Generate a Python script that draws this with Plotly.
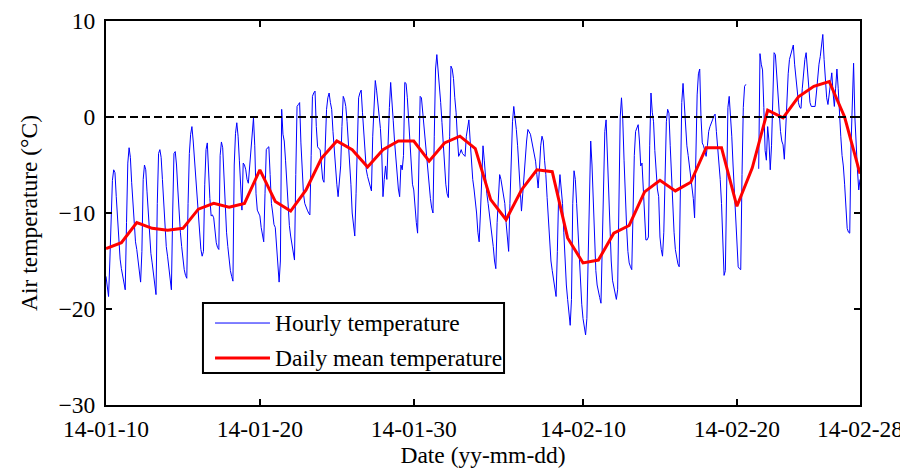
import pandas as pd
import plotly.graph_objects as go

# === DATOS ===
# temperatura cada 2 h (00, 02, ..., 22 h), una fila por día
sample_hours = [0, 2, 4, 6, 8, 10, 12, 14, 16, 18, 20, 22]

# 10 ene - 31 ene 2014
hourly_jan = [
    [-16.6, -18.0, -18.7, -15.0, -10.0, -6.6, -5.5, -5.8, -8.3, -10.8, -13.2, -14.8],
    [-15.8, -16.6, -17.4, -18.0, -11.0, -4.8, -3.2, -4.2, -6.8, -9.0, -11.5, -13.0],
    [-13.8, -15.0, -16.2, -17.2, -14.0, -6.5, -5.0, -5.5, -7.8, -10.0, -12.8, -14.2],
    [-15.2, -16.5, -17.8, -18.5, -9.0, -3.8, -3.4, -4.2, -6.5, -9.0, -11.4, -13.5],
    [-14.5, -15.5, -17.0, -18.0, -10.0, -3.8, -3.6, -5.0, -7.5, -10.0, -12.0, -13.5],
    [-14.8, -15.9, -16.5, -16.8, -9.0, -3.8, -1.8, -1.0, -2.5, -4.5, -6.9, -8.5],
    [-10.0, -12.0, -13.8, -14.5, -14.0, -7.0, -3.4, -2.7, -6.0, -8.5, -10.3, -10.2],
    [-10.5, -12.0, -13.1, -13.6, -13.8, -4.0, -2.6, -3.2, -6.5, -10.0, -12.0, -13.5],
    [-15.0, -16.0, -16.6, -17.1, -5.0, -1.7, -0.6, -2.0, -4.5, -7.5, -9.7, -4.8],
    [-5.0, -5.5, -6.5, -6.9, -5.0, -3.4, -1.0, -0.1, -3.0, -8.0, -9.7, -10.0],
    [-10.3, -11.5, -12.5, -13.0, -8.0, -3.4, -3.2, -3.1, -6.0, -9.0, -10.0, -11.2],
    [-11.5, -13.8, -15.5, -17.2, -15.0, 0.8, -1.8, -2.5, -4.5, -7.0, -9.7, -11.3],
    [-12.4, -13.3, -14.2, -14.9, -6.0, 1.1, 1.3, 1.5, -2.7, -5.5, -8.0, -9.0],
    [-9.5, -9.7, -10.0, -10.2, -4.0, 2.15, 2.5, 2.7, -1.0, -3.1, -3.3, -3.4],
    [-5.0, -6.5, -6.8, -3.0, 0.8, 2.0, 2.5, 1.5, 0.8, -1.5, -3.5, -5.0],
    [-7.0, -8.3, -6.5, -5.1, -1.0, 2.15, 1.8, 1.1, -0.5, -2.5, -4.1, -7.0],
    [-10.0, -11.5, -12.4, -8.0, -1.0, 2.0, 2.5, 2.8, 0.5, -1.7, -4.0, -5.5],
    [-6.2, -6.8, -7.3, -7.7, -2.0, 2.0, 3.8, 2.8, 1.5, 0.8, -1.2, -3.5],
    [-8.3, -6.5, -5.1, -6.5, -2.0, 1.0, 3.6, 2.0, -0.4, -2.5, -4.5, -6.2],
    [-7.5, -8.3, -5.0, -5.5, -4.0, 3.6, 3.5, 2.0, -0.5, -3.0, -5.5, -7.0],
    [-7.6, -9.5, -11.0, -12.1, -5.0, 2.15, 2.0, 0.5, -1.0, -2.4, -4.0, -6.0],
    [-7.0, -8.5, -9.5, -10.0, -2.0, 5.0, 6.5, 5.0, 3.5, 1.5, -0.6, -3.0],
]

# 1 feb - 27 feb 2014 (None = hueco en el registro)
hourly_feb = [
    [-5.5, -7.0, -8.0, -8.4, -2.0, 5.3, 5.0, 4.0, 2.0, 0.5, -2.0, -4.1],
    [-3.8, -3.4, -3.8, -4.0, -4.1, -2.0, -0.8, -0.3, -2.5, -5.1, -6.5, -7.5],
    [-8.5, -10.0, -12.0, -13.0, -10.0, -5.5, -3.0, -4.5, -6.8, -8.0, -9.0, -10.0],
    [-11.0, -12.0, -13.5, -15.0, -15.8, -11.0, -8.0, -6.0, -6.5, -7.5, -8.0, -9.0],
    [-11.0, -12.5, -14.0, -9.0, -3.0, -0.5, 1.1, 0.0, -1.3, -3.0, -5.5, -8.5],
    [-9.8, -8.0, -6.0, -4.0, -2.5, -1.3, -1.5, -1.8, -2.5, -3.2, -4.0, -4.6],
    [-6.0, -7.4, -5.5, -3.0, -2.0, -2.5, -4.5, -6.0, -8.4, -11.0, -13.0, -15.0],
    [-16.0, -17.0, -18.0, -18.7, -14.0, -8.0, -6.0, -7.5, -9.0, -12.0, -15.0, -17.5],
    [-19.0, -20.5, -21.7, -19.0, -9.0, -5.6, -6.5, -9.0, -12.0, -15.0, -17.5, -19.5],
    [-21.0, -22.0, -22.7, -21.0, -14.0, -6.0, -2.5, -5.0, -9.0, -13.0, -16.0, -17.5],
    [-18.0, -18.8, -19.4, -12.0, -5.0, -1.5, -0.3, -3.9, -8.0, -12.0, -15.0, -17.0],
    [-17.8, -18.5, -19.0, -18.0, -8.0, 0.0, 2.0, -0.3, -4.5, -8.5, -11.5, -14.0],
    [-15.2, -15.6, -15.9, -10.0, -4.0, -1.5, -1.2, -0.8, -2.5, -5.1, -4.8, -8.0],
    [-11.0, -12.8, -12.8, -12.5, -3.0, 2.5, 0.5, -0.5, -3.5, -6.2, -7.5, -8.3],
    [-12.5, -13.8, -14.5, -12.0, -5.0, -0.5, 0.8, 0.4, -3.0, -6.5, -9.7, -12.0],
    [-13.8, -14.8, -15.3, -15.6, -6.0, 1.5, 3.5, 1.0, -1.5, -3.0, -4.0, -5.0],
    [-6.0, -7.2, -8.5, -10.5, -3.0, 2.3, 4.5, 5.0, 0.0, -2.7, -3.0, -3.5],
    [-4.1, -3.0, -1.5, -1.0, -0.5, -0.3, 0.1, 0.3, -1.5, -3.0, -4.5, -6.5],
    [-9.0, -13.0, -16.5, -16.0, -5.0, 1.0, 2.15, 0.5, -2.0, -5.0, -8.0, -11.0],
    [-14.0, -15.6, -15.8, -15.9, -6.0, 1.0, 3.2, 3.4, None, None, None, None],
    [None, None, None, None, None, -5.4, 6.6, 5.5, 4.9, 1.0, -3.5, -4.5],
    [-1.0, -2.5, -5.5, -3.0, 2.0, 6.7, 6.5, 4.5, 2.0, -0.3, -1.5, -2.5],
    [-2.9, -4.4, -1.0, 2.5, 4.5, 6.0, 6.5, 7.0, 7.5, 5.5, 3.9, 2.5],
    [1.5, 1.0, 0.9, 3.0, 5.0, 6.0, 6.7, 5.0, 3.0, 1.5, 1.1, 1.1],
    [1.1, 1.1, 2.5, 4.5, 5.5, 6.3, 7.5, 8.6, 6.0, 3.9, 2.0, 1.3],
    [2.5, 3.5, 4.6, 2.5, 1.1, 3.0, 5.0, 3.0, 0.1, -2.0, -4.0, -5.1],
    [-7.0, -9.3, -11.6, -12.0, -12.1, -3.0, 3.0, 5.6, 0.0, -3.4, -5.5, -7.6],
]
last_hourly = -6.5  # 28 feb 00 h

# media diaria (un valor por día, 10 ene - 28 feb)
daily_mean_jan = [-13.7, -13.1, -11.0, -11.6, -11.8, -11.6, -9.6, -9.0, -9.4, -9.0,
                  -5.5, -8.8, -9.8, -7.6, -4.3, -2.5, -3.4, -5.2, -3.4, -2.5,
                  -2.5, -4.6]
daily_mean_feb = [-2.7, -2.0, -3.3, -8.6, -10.7, -7.6, -5.5, -5.7, -12.6, -15.2,
                  -14.9, -12.1, -11.3, -7.8, -6.6, -7.7, -6.8, -3.2, -3.2, -9.3,
                  -5.3, 0.7, -0.1, 2.1, 3.2, 3.7, 0.0, -5.9]

tick_dates = ['2014-01-10', '2014-01-20', '2014-01-30', '2014-02-10', '2014-02-20', '2014-02-28']
tick_labels = ['14-01-10', '14-01-20', '14-01-30', '14-02-10', '14-02-20', '14-02-28']
y_ticks = [-30, -20, -10, 0, 10]
y_labels = ['\u221230', '\u221220', '\u221210', '0', '10']
legend_names = ['Hourly temperature', 'Daily mean temperature']

# === SERIES ===
start = pd.Timestamp('2014-01-10')
rows = hourly_jan + hourly_feb
hourly_x, hourly_y = [], []
for i, row in enumerate(rows):
    day = start + pd.Timedelta(days=i)
    for h, v in zip(sample_hours, row):
        hourly_x.append(day + pd.Timedelta(hours=h))
        hourly_y.append(v)
hourly_x.append(start + pd.Timedelta(days=len(rows)))
hourly_y.append(last_hourly)

daily_mean = daily_mean_jan + daily_mean_feb
daily_x = pd.date_range(start, periods=len(daily_mean), freq='D')

FONT = "Times New Roman, Liberation Serif, serif"
FS = 23.5
BLUE, RED = '#0000ff', '#ff0000'

fig = go.Figure()
fig.add_trace(go.Scatter(
    x=hourly_x, y=hourly_y, mode='lines', name=legend_names[0],
    line=dict(color=BLUE, width=1), connectgaps=False, showlegend=False
))
fig.add_trace(go.Scatter(
    x=daily_x, y=daily_mean, mode='lines', name=legend_names[1],
    line=dict(color=RED, width=3), showlegend=False
))
fig.add_hline(y=0, line=dict(color='black', width=2, dash='8px,4px'))

axis_style = dict(
    showline=True, linecolor='black', linewidth=2, mirror='ticks',
    ticks='inside', ticklen=6, tickwidth=2, tickcolor='black',
    showgrid=False, zeroline=False, automargin=False,
    tickfont=dict(family=FONT, size=FS, color='black'),
)

fig.update_xaxes(
    type='date', range=['2014-01-10', '2014-02-28'],
    tickvals=tick_dates, ticktext=tick_labels, ticklabelstandoff=2,
    title=dict(text='Date (yy-mm-dd)', font=dict(family=FONT, size=FS, color='black'), standoff=0),
    **axis_style
)
fig.update_yaxes(
    range=[-30, 10], tickvals=y_ticks, ticktext=y_labels, ticklabelstandoff=4,
    title=dict(text='Air temperature (\u00b0C)', font=dict(family=FONT, size=FS, color='black'), standoff=14),
    **axis_style
)

# leyenda dibujada a mano (caja, muestras de línea y textos), estilo MATLAB
fig.add_shape(type='rect', xref='paper', yref='paper', x0=0.1286, x1=0.5279, y0=0.0833, y1=0.2656,
              line=dict(color='black', width=2), fillcolor='white', layer='above')
for yy, color, w, name in [(0.2135, BLUE, 1, legend_names[0]), (0.1224, RED, 3, legend_names[1])]:
    fig.add_shape(type='line', xref='paper', yref='paper', x0=0.1446, x1=0.2175, y0=yy, y1=yy,
                  line=dict(color=color, width=w), layer='above')
    fig.add_annotation(x=0.2215, y=yy, xref='paper', yref='paper', text=name, showarrow=False,
                       xanchor='left', yanchor='middle', font=dict(family=FONT, size=FS, color='black'))

# la página añade 8 px de margen: figura de 900x460
fig.update_layout(
    width=900, height=460,
    margin=dict(l=98, r=48, t=13, b=63),
    plot_bgcolor='white', paper_bgcolor='white',
    font=dict(family=FONT, size=FS, color='black'),
)

fig.write_html("out.html")
